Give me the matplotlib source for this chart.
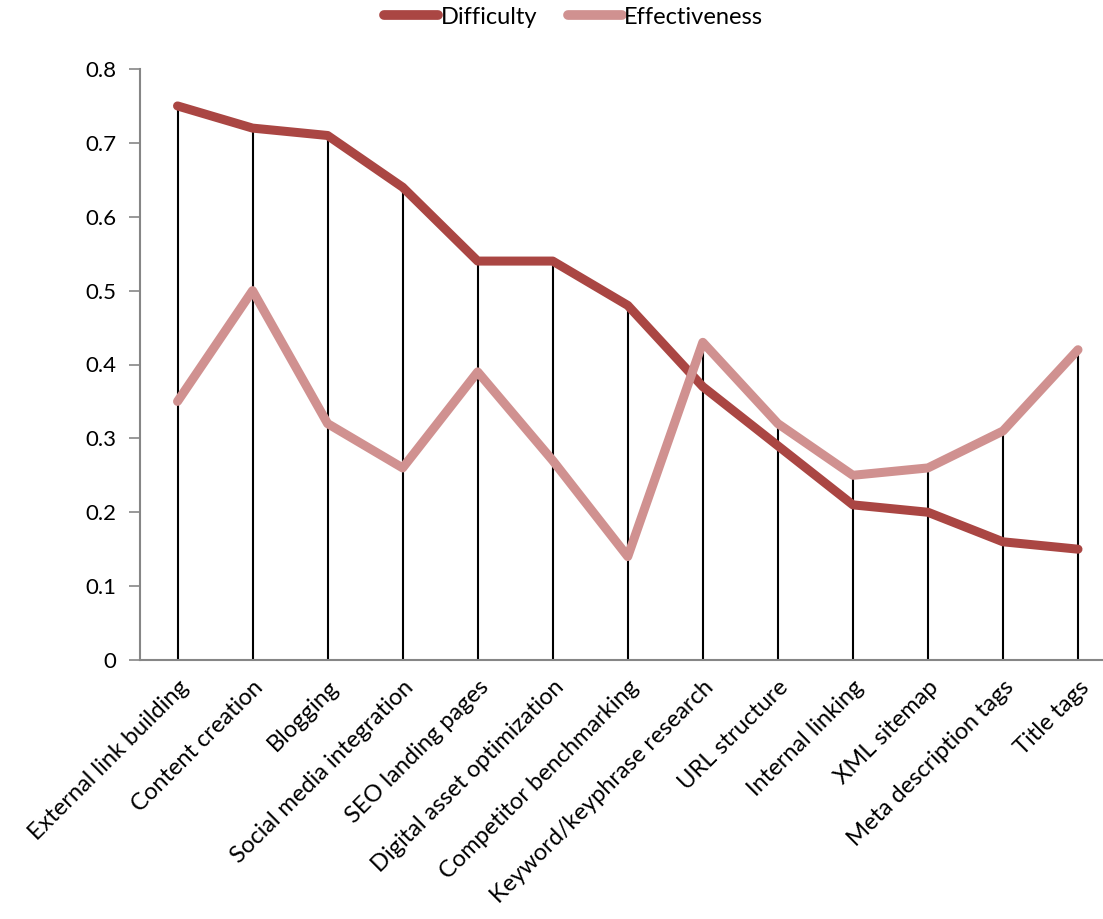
import matplotlib
matplotlib.use("Agg")
import matplotlib.pyplot as plt
from matplotlib.lines import Line2D

plt.rcParams['font.family'] = ['Lato', 'DejaVu Sans']

categories = ["External link building", "Content creation", "Blogging",
              "Social media integration", "SEO landing pages",
              "Digital asset optimization", "Competitor benchmarking",
              "Keyword/keyphrase research", "URL structure", "Internal linking",
              "XML sitemap", "Meta description tags", "Title tags"]
difficulty = [0.75, 0.72, 0.71, 0.64, 0.54, 0.54, 0.48, 0.37, 0.29, 0.21, 0.20, 0.16, 0.15]
effectiveness = [0.35, 0.50, 0.32, 0.26, 0.39, 0.27, 0.14, 0.43, 0.32, 0.25, 0.26, 0.31, 0.42]
yticks = [0, 0.1, 0.2, 0.3, 0.4, 0.5, 0.6, 0.7, 0.8]
ytick_labels = ["0", "0.1", "0.2", "0.3", "0.4", "0.5", "0.6", "0.7", "0.8"]

c_diff = "#AA4643"
c_eff = "#D09190"
grey = "#868686"

fig = plt.figure(figsize=(11.03, 9.19), dpi=100)
ax = fig.add_axes([140 / 1103, 1 - 660 / 919, 1 - 140 / 1103, (660 - 69) / 919])

x = list(range(len(categories)))
# high-low drop lines from zero to the higher of the two series
ax.vlines(x, 0, [max(d, e) for d, e in zip(difficulty, effectiveness)],
          color="black", lw=1.5, zorder=1)
ax.plot(x, difficulty, color=c_diff, lw=6.5, solid_capstyle="round",
        solid_joinstyle="round", zorder=2)
ax.plot(x, effectiveness, color=c_eff, lw=6.5, solid_capstyle="round",
        solid_joinstyle="round", zorder=3)

ax.set_xlim(-0.5, 12.333)
ax.set_ylim(0, 0.8)
ax.set_yticks(yticks)
ax.set_yticklabels(ytick_labels, fontsize=16)
ax.set_xticks(x)
ax.set_xticklabels(categories, fontsize=17, rotation=45, ha="right",
                   rotation_mode="anchor")
ax.tick_params(axis="x", length=0, pad=12)
ax.tick_params(axis="y", length=8, width=1.2, color=grey, pad=9)

for s in ["top", "right"]:
    ax.spines[s].set_visible(False)
for s in ["left", "bottom"]:
    ax.spines[s].set_color(grey)
    ax.spines[s].set_linewidth(1.5)

handles = [Line2D([], [], color=c_diff, lw=7, solid_capstyle="round"),
           Line2D([], [], color=c_eff, lw=7, solid_capstyle="round")]
fig.legend(handles, ["Difficulty", "Effectiveness"], loc="center",
           bbox_to_anchor=(0.52, 1 - 17 / 919), ncol=2, frameon=False,
           fontsize=17, handlelength=2.3, handletextpad=0.1, columnspacing=1.3)

fig.savefig("out.png", dpi=100)
